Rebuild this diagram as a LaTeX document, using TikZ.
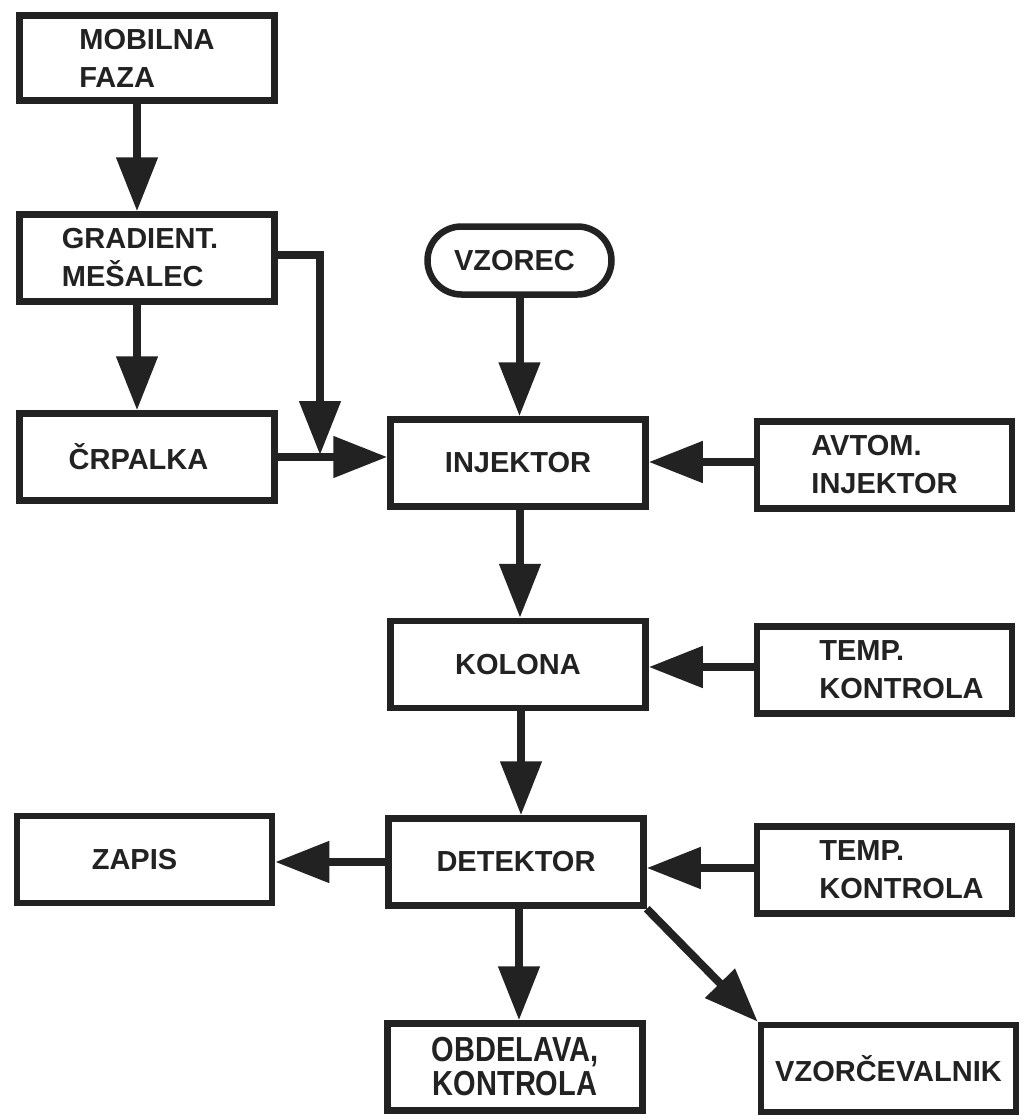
\documentclass[tikz,border=0pt]{standalone}
\usepackage{fontspec}
\setmainfont{Liberation Sans}
\usetikzlibrary{arrows.meta}
\definecolor{ink}{HTML}{222222}
\begin{document}
\begin{tikzpicture}[x=1pt,y=-1pt,
  box/.style={draw=ink, line width=6.5pt, rectangle, minimum width=255pt, minimum height=87pt,
    inner sep=0pt, text=ink, font=\fontsize{29}{38}\selectfont\bfseries, align=left},
  oval/.style={box, rounded corners=34pt, minimum width=184pt, minimum height=68pt},
  conn/.style={draw=ink, line width=8pt, -{Triangle[length=54pt,width=40pt]}},
]
\useasboundingbox[fill=white] (0,0) rectangle (1025,1120);

\node[box, minimum height=85pt] (mob) at (147,58) {MOBILNA\\FAZA};
\node[box] (gra) at (147,258) {GRADIENT.\rule{14pt}{0pt}\\MEŠALEC};
\node[box] (crp) at (147,457) {ČRPALKA\rule{17pt}{0pt}};
\node[oval] (vzo) at (519.5,260.5) {VZOREC\rule{10pt}{0pt}};
\node[box] (inj) at (518,463) {INJEKTOR};
\node[box] (avt) at (884.5,465) {AVTOM.\\INJEKTOR};
\node[box] (kol) at (518,664.5) {KOLONA};
\node[box] (tk1) at (884.5,670) {\rule{34pt}{0pt}TEMP.\\\rule{34pt}{0pt}KONTROLA};
\node[box] (det) at (516,862) {DETEKTOR};
\node[box] (zap) at (144.5,859.5) {ZAPIS\rule{20pt}{0pt}};
\node[box] (tk2) at (884.5,870) {\rule{34pt}{0pt}TEMP.\\\rule{34pt}{0pt}KONTROLA};
\node[box, font=\fontsize{29}{34}\selectfont\bfseries, align=center] (obd) at (515,1067)
  {\scalebox{1}[1.2]{OBDELAVA,}\\\scalebox{1}[1.2]{KONTROLA}};
\node[box] (vzc) at (888.5,1068.5) {VZORČEVALNIK};

\coordinate (jn) at (320,455);

\draw[conn] ([xshift=-10pt]mob.south) -- ([xshift=-10pt]gra.north);
\draw[conn] ([xshift=-10pt]gra.south) -- ([xshift=-10pt]crp.north);
\draw[conn] ([yshift=3pt]gra.east) -| (jn);
\draw[conn] (crp.east) -- (crp.east -| inj.west);
\draw[conn] (vzo.south) -- (vzo.south |- inj.north);
\draw[conn] ([yshift=3pt]avt.west) -- ([yshift=3pt]avt.west -| inj.east);
\draw[conn] ([xshift=2pt]inj.south) -- ([xshift=2pt]inj.south |- kol.north);
\draw[conn] ([yshift=3pt]tk1.west) -- ([yshift=3pt]tk1.west -| kol.east);
\draw[conn] ([xshift=3pt]kol.south) -- ([xshift=3pt]kol.south |- det.north);
\draw[conn] ([yshift=2pt]tk2.west) -- ([yshift=2pt]tk2.west -| det.east);
\draw[conn] (det.west) -- (det.west -| zap.east);
\draw[conn] ([xshift=3pt]det.south) -- ([xshift=3pt]det.south |- obd.north);
\draw[conn] (det.south east) -- (vzc.north west);
\end{tikzpicture}
\end{document}
